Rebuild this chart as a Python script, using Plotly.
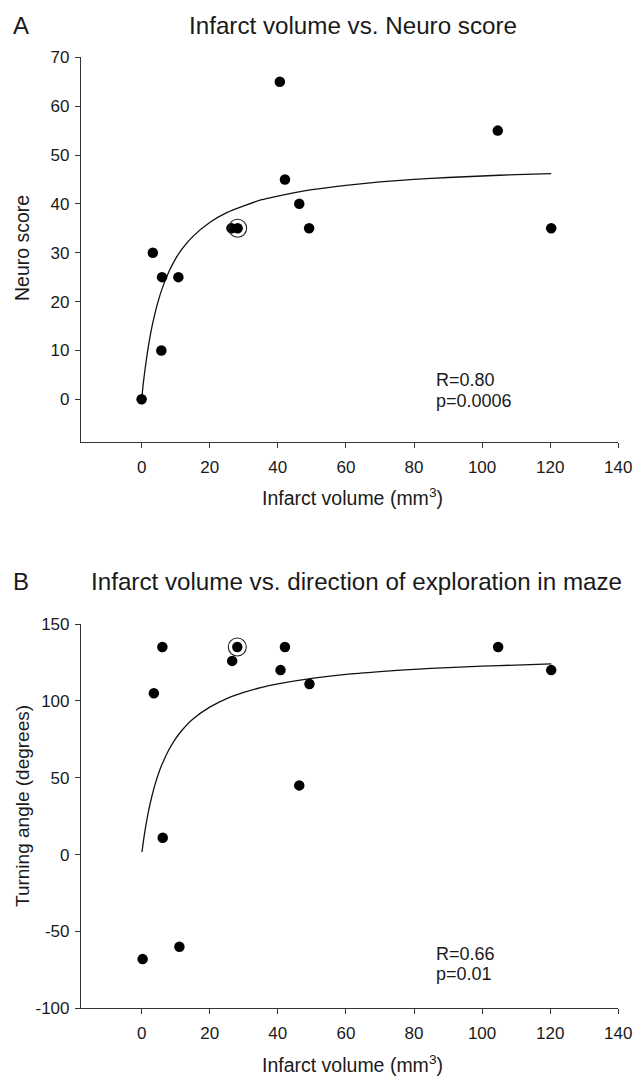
import plotly.graph_objects as go

# ---------------- data ----------------
# Panel A: infarct volume vs neuro score
vol_a = [0, 3.3, 5.8, 6.0, 10.8, 26.4, 28.2, 40.6, 42.1, 46.3, 49.2, 104.6, 120.3]
neuro_score = [0, 30, 10, 25, 25, 35, 35, 65, 45, 40, 35, 55, 35]
circled_a_x = [28.2]
circled_a_y = [35]
fit_a_x = [0, 0.5, 1, 2, 3, 4, 5, 6, 8, 10, 12, 15, 20, 25, 30, 35, 40, 50, 60, 70, 80, 90, 100, 110, 120.3]
fit_a_y = [0, 3.3, 6.1, 10.9, 14.7, 17.8, 20.4, 22.6, 26.1, 28.8, 30.9, 33.3, 36.2, 38.2, 39.6, 40.8, 41.6,
           42.9, 43.8, 44.5, 45.0, 45.4, 45.7, 46.0, 46.2]

# Panel B: infarct volume vs turning angle
vol_b = [0.3, 3.6, 6.1, 6.2, 11.1, 26.6, 28.1, 40.8, 42.1, 46.3, 49.3, 104.7, 120.3]
turning_angle = [-68, 105, 135, 11, -60, 126, 135, 120, 135, 45, 111, 135, 120]
circled_b_x = [28.1]
circled_b_y = [135]
fit_b_x = [0.1, 0.5, 1, 2, 3, 4, 5, 6, 8, 10, 12, 15, 20, 25, 30, 35, 40, 50, 60, 70, 80, 90, 100, 110, 120.3]
fit_b_y = [1.7, 8.3, 15.6, 27.9, 37.8, 46.0, 52.9, 58.7, 68.2, 75.5, 81.2, 88.0, 95.9, 101.5, 105.5, 108.6,
           111.0, 114.6, 117.2, 119.0, 120.5, 121.6, 122.6, 123.3, 124.0]

x_ticks = [0, 20, 40, 60, 80, 100, 120, 140]
x_tick_text = ["0", "20", "40", "60", "80", "100", "120", "140"]
y_ticks_a = [0, 10, 20, 30, 40, 50, 60, 70]
y_tick_text_a = ["0", "10", "20", "30", "40", "50", "60", "70"]
y_ticks_b = [-100, -50, 0, 50, 100, 150]
y_tick_text_b = ["-100", "-50", "0", "50", "100", "150"]

title_a = "Infarct volume vs. Neuro score"
title_b = "Infarct volume vs. direction of exploration in maze"
x_title = "Infarct volume (mm<sup>3</sup>)"
y_title_a = "Neuro score"
y_title_b = "Turning angle (degrees)"
stats_a = ["R=0.80", "p=0.0006"]
stats_b = ["R=0.66", "p=0.01"]

# ---------------- figure ----------------
W, H = 637, 1078
FONT = "Liberation Sans, Arial, Helvetica, sans-serif"
TXT = "#1a1a1a"
AX = "#333333"

fig = go.Figure()

line_style = dict(color="#111111", width=1.3, shape="spline", smoothing=0.6)
dot_style = dict(color="#000000", size=10.5, line=dict(width=0))
ring_style = dict(symbol="circle-open", color="#222222", size=18, line=dict(width=1.1, color="#222222"))

fig.add_trace(go.Scatter(x=fit_a_x, y=fit_a_y, mode="lines", line=line_style,
                         xaxis="x", yaxis="y", showlegend=False, hoverinfo="skip"))
fig.add_trace(go.Scatter(x=vol_a, y=neuro_score, mode="markers", marker=dot_style,
                         xaxis="x", yaxis="y", showlegend=False))
fig.add_trace(go.Scatter(x=circled_a_x, y=circled_a_y, mode="markers", marker=ring_style,
                         xaxis="x", yaxis="y", showlegend=False, hoverinfo="skip"))

fig.add_trace(go.Scatter(x=fit_b_x, y=fit_b_y, mode="lines", line=line_style,
                         xaxis="x2", yaxis="y2", showlegend=False, hoverinfo="skip"))
fig.add_trace(go.Scatter(x=vol_b, y=turning_angle, mode="markers", marker=dot_style,
                         xaxis="x2", yaxis="y2", showlegend=False))
fig.add_trace(go.Scatter(x=circled_b_x, y=circled_b_y, mode="markers", marker=ring_style,
                         xaxis="x2", yaxis="y2", showlegend=False, hoverinfo="skip"))

x_dom = [81 / W, 618.3 / W]
ya_dom = [1 - 442.3 / H, 1 - 57.3 / H]
yb_dom = [1 - 1008.3 / H, 1 - 624 / H]

common_axis = dict(showline=True, linecolor=AX, linewidth=1.2, ticks="outside", ticklen=5,
                   tickwidth=1.1, tickcolor=AX, showgrid=False, zeroline=False,
                   tickfont=dict(family=FONT, size=17, color=TXT), automargin=False,
                   ticklabeloverflow="allow")
x_extra = dict(ticklabelstandoff=4)
y_extra = dict(ticklabelstandoff=2)

fig.update_layout(
    width=W, height=H,
    margin=dict(l=0, r=0, t=0, b=0),
    paper_bgcolor="white", plot_bgcolor="white",
    font=dict(family=FONT, color=TXT),
    xaxis=dict(domain=x_dom, range=[-17.8, 140], tickvals=x_ticks, ticktext=x_tick_text, anchor="y",
               **common_axis, **x_extra),
    yaxis=dict(domain=ya_dom, range=[-8.8, 70], tickvals=y_ticks_a, ticktext=y_tick_text_a, anchor="x",
               **common_axis, **y_extra),
    xaxis2=dict(domain=x_dom, range=[-17.8, 140], tickvals=x_ticks, ticktext=x_tick_text, anchor="y2",
                **common_axis, **x_extra),
    yaxis2=dict(domain=yb_dom, range=[-100, 150], tickvals=y_ticks_b, ticktext=y_tick_text_b, anchor="x2",
                **common_axis, **y_extra),
)


def px_ann(text, xp, yp, size, angle=0):
    return dict(text=text, x=xp / W, y=1 - yp / H, xref="paper", yref="paper",
                showarrow=False, xanchor="center", yanchor="middle", textangle=angle,
                font=dict(family=FONT, size=size, color=TXT))


ann = [
    px_ann("A", 21, 25, 24),
    px_ann("B", 21, 581, 24),
    px_ann(title_a, 352.5, 25, 24.2),
    px_ann(title_b, 356, 581, 24.2),
    px_ann(x_title, 352, 497, 19.5),
    px_ann(x_title, 352, 1064, 19.5),
    px_ann(y_title_a, 22, 248, 19.5, -90),
    px_ann(y_title_b, 22, 806, 19, -90),
]
for s, yv in zip(stats_a, [3.9, -0.4]):
    ann.append(dict(text=s, x=85.9, y=yv, xref="x", yref="y", showarrow=False,
                    xanchor="left", yanchor="middle", font=dict(family=FONT, size=18, color=TXT)))
for s, yv in zip(stats_b, [-64.5, -77.4]):
    ann.append(dict(text=s, x=85.9, y=yv, xref="x2", yref="y2", showarrow=False,
                    xanchor="left", yanchor="middle", font=dict(family=FONT, size=18, color=TXT)))
fig.update_layout(annotations=ann)

fig.write_html("out.html",
               config={"displayModeBar": False},
               post_script="document.body.style.margin='0px';document.body.style.padding='0px';")
